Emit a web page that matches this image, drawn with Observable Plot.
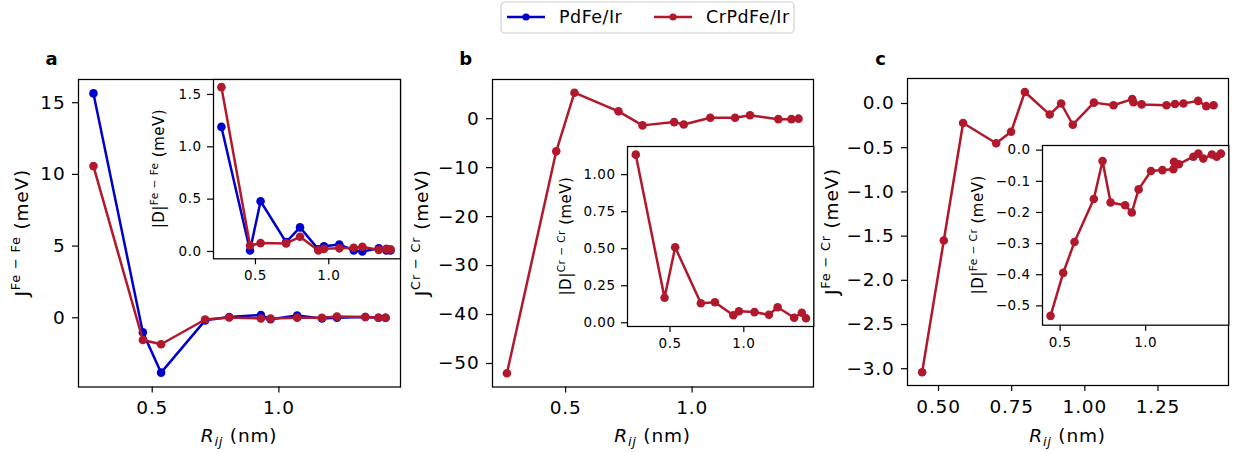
<!DOCTYPE html>
<html><head><meta charset="utf-8">
<script src="https://cdn.jsdelivr.net/npm/d3@7"></script>
<script src="https://cdn.jsdelivr.net/npm/@observablehq/plot@0.6"></script>
<style>
body{margin:0;background:#fff;}
#root{position:relative;width:1233px;height:453px;overflow:hidden;font-family:"DejaVu Sans",sans-serif;}
#root svg{position:absolute;overflow:visible;}
</style></head><body><div id="root"></div>
<script>
// ---- data ----
const seriesNames = ["PdFe/Ir", "CrPdFe/Ir"];
const seriesColors = ["#0000cc", "#b2182b"];

// neighbour distances (nm) for Fe–Fe and Cr–Cr pairs
const R_FeFe = [0.268, 0.463, 0.535, 0.709, 0.804, 0.929, 0.967, 1.072, 1.170, 1.229, 1.341, 1.393, 1.421];
// panel a main: J Fe-Fe (meV)
const J_FeFe_PdFe   = [15.65, -1.02, -3.83, -0.18, 0.05, 0.19, -0.10, 0.15, -0.05, 0.00, 0.05, 0.00, 0.00];
const J_FeFe_CrPdFe = [10.58, -1.55, -1.85, -0.12, 0.02, -0.05, -0.06, 0.00, 0.00, 0.08, 0.05, 0.00, 0.00];
// panel a inset: |D| Fe-Fe (meV)
const D_FeFe_PdFe   = [1.19, 0.01, 0.48, 0.09, 0.23, 0.02, 0.05, 0.067, 0.01, 0.00, 0.03, 0.01, 0.01];
const D_FeFe_CrPdFe = [1.57, 0.057, 0.08, 0.077, 0.14, 0.01, 0.025, 0.03, 0.035, 0.045, 0.015, 0.025, 0.02];
// panel b: Cr-Cr (CrPdFe/Ir)
const J_CrCr = [-52.0, -6.67, 5.3, 1.5, -1.37, -0.7, -1.2, 0.2, 0.2, 0.7, -0.1, -0.1, 0.0];
const D_CrCr = [1.135, 0.169, 0.51, 0.132, 0.139, 0.051, 0.078, 0.072, 0.054, 0.105, 0.034, 0.068, 0.031];
// panel c: Fe-Cr (CrPdFe/Ir)
const R_FeCr = [0.444, 0.518, 0.584, 0.697, 0.748, 0.795, 0.880, 0.919, 0.959, 1.031, 1.098, 1.162, 1.166, 1.194, 1.279, 1.308, 1.337, 1.387, 1.415, 1.440];
const J_FeCr = [-3.04, -1.55, -0.22, -0.45, -0.32, 0.13, -0.125, 0.0, -0.24, 0.01, -0.02, 0.05, 0.015, -0.01, -0.02, -0.005, 0.0, 0.03, -0.03, -0.02];
const D_FeCr = [-0.532, -0.394, -0.295, -0.157, -0.035, -0.168, -0.177, -0.2, -0.126, -0.067, -0.064, -0.061, -0.037, -0.045, -0.021, -0.011, -0.027, -0.014, -0.021, -0.011];

// ticks
const ticksA_y = [0, 5, 10, 15];
const ticksA_x = [0.5, 1.0];
const ticksAi_y = [0.0, 0.5, 1.0, 1.5];
const ticksB_y = [-50, -40, -30, -20, -10, 0];
const ticksBi_y = [0.00, 0.25, 0.50, 0.75, 1.00];
const ticksC_y = [-3.0, -2.5, -2.0, -1.5, -1.0, -0.5, 0.0];
const ticksC_x = [0.50, 0.75, 1.00, 1.25];
const ticksCi_y = [-0.5, -0.4, -0.3, -0.2, -0.1, 0.0];
const ticksIn_x = [0.5, 1.0];

// texts
const panelLetters = ["a", "b", "c"];
const xLabel = ["R", "ij", " (nm)"];
const yLabelsMain = [["J", "Fe − Fe", " (meV)"], ["J", "Cr − Cr", " (meV)"], ["J", "Fe − Cr", " (meV)"]];
const yLabelsInset = [["|D|", "Fe − Fe", " (meV)"], ["|D|", "Cr − Cr", " (meV)"], ["|D|", "Fe − Cr", " (meV)"]];

// ---- drawing ----
const root = document.getElementById("root");
const FONT = "'DejaVu Sans', sans-serif";

function panel(o) {
  const [x0, y0, x1, y1] = o.frame;
  const [mt, mr, mb, ml] = o.margin;
  const fs = o.fontSize;
  const marks = [];
  if (o.inset) marks.push(Plot.frame({fill: "white", stroke: "none"}));
  o.series.forEach(s => {
    const data = o.x.map((r, i) => ({r, v: s.values[i]}));
    marks.push(Plot.line(data, {x: "r", y: "v", stroke: s.color, strokeWidth: 2.5}));
    marks.push(Plot.dot(data, {x: "r", y: "v", fill: s.color, stroke: "none", r: o.r}));
  });
  marks.push(Plot.frame({stroke: "black", strokeWidth: 1.25}));
  marks.push(Plot.axisX({ticks: o.xTicks, tickFormat: d3.format(o.xFmt), tickSize: 6, tickPadding: o.xPad, strokeWidth: 1.2, label: null}));
  marks.push(Plot.axisY({ticks: o.yTicks, tickFormat: d3.format(o.yFmt), tickSize: 6, tickPadding: o.yPad, strokeWidth: 1.2, label: null}));
  const W = (x1 - x0) + ml + mr, H = (y1 - y0) + mt + mb;
  const svg = Plot.plot({
    width: W, height: H,
    marginTop: mt, marginRight: mr, marginBottom: mb, marginLeft: ml,
    x: {domain: o.xDomain}, y: {domain: o.yDomain},
    style: {fontFamily: FONT, fontSize: fs + "px", letterSpacing: o.ls + "px", color: "black", background: "transparent", overflow: "visible"},
    marks
  });
  const left = x0 - ml, top = y0 - mt;
  svg.style.left = left + "px";
  svg.style.top = top + "px";
  const s = d3.select(svg);
  const ls = o.labelSize;
  // y label with superscript
  const yl = s.append("text")
    .attr("transform", `translate(${ml - o.yLabelOff},${mt + (y1 - y0) / 2}) rotate(-90)`)
    .attr("text-anchor", "middle").attr("font-size", ls).attr("fill", "black").attr("font-family", FONT);
  yl.append("tspan").text(o.yLabel[0]);
  yl.append("tspan").attr("font-size", ls * 0.7).attr("dy", -0.42 * ls).text(o.yLabel[1]);
  yl.append("tspan").attr("dy", 0.42 * ls).text(o.yLabel[2]);
  if (o.xLabelY) {
    const xl = s.append("text")
      .attr("x", ml + (x1 - x0) / 2).attr("y", o.xLabelY - top)
      .attr("text-anchor", "middle").attr("font-size", ls).attr("fill", "black").attr("font-family", FONT);
    xl.append("tspan").attr("font-style", "italic").text(xLabel[0]);
    xl.append("tspan").attr("font-style", "italic").attr("font-size", ls * 0.7).attr("dy", 0.22 * ls).text(xLabel[1]);
    xl.append("tspan").attr("dy", -0.22 * ls).text(xLabel[2]);
  }
  if (o.letter) {
    s.append("text").attr("x", ml - 26).attr("y", 64.5 - top)
      .attr("font-size", 18).attr("font-weight", "bold").attr("fill", "black").attr("font-family", FONT)
      .text(o.letter);
  }
  root.appendChild(svg);
}

const mainCommon = {margin: [40, 8, 66, 95], fontSize: 18.5, labelSize: 18.5, ls: 0.8, r: 4.3, xPad: 8, yPad: 7, xLabelY: 442};
const insetCommon = {margin: [6, 6, 36, 75], fontSize: 13.5, labelSize: 15, ls: 0.5, r: 4.3, xPad: 6, yPad: 6, inset: true};

// Panel a
panel({...mainCommon, frame: [78, 79, 400, 386.5], xDomain: [0.209, 1.48], yDomain: [-4.83, 16.62],
  x: R_FeFe, series: [{values: J_FeFe_PdFe, color: seriesColors[0]}, {values: J_FeFe_CrPdFe, color: seriesColors[1]}],
  xTicks: ticksA_x, yTicks: ticksA_y, xFmt: ".1f", yFmt: "d", yLabel: yLabelsMain[0], yLabelOff: 50, letter: panelLetters[0]});
// Panel b
panel({...mainCommon, frame: [492, 79, 813, 386.5], xDomain: [0.211, 1.48], yDomain: [-54.8, 8.0],
  x: R_FeFe, series: [{values: J_CrCr, color: seriesColors[1]}],
  xTicks: ticksA_x, yTicks: ticksB_y, xFmt: ".1f", yFmt: "d", yLabel: yLabelsMain[1], yLabelOff: 64, letter: panelLetters[1]});
// Panel c
panel({...mainCommon, frame: [907, 78, 1228, 385], xDomain: [0.394, 1.491], yDomain: [-3.19, 0.283],
  x: R_FeCr, series: [{values: J_FeCr, color: seriesColors[1]}],
  xTicks: ticksC_x, yTicks: ticksC_y, xFmt: ".2f", yFmt: ".1f", yLabel: yLabelsMain[2], yLabelOff: 69, letter: panelLetters[2]});

// Insets
panel({...insetCommon, frame: [213, 79, 400, 258.3], xDomain: [0.214, 1.489], yDomain: [-0.07, 1.643],
  x: R_FeFe, series: [{values: D_FeFe_PdFe, color: seriesColors[0]}, {values: D_FeFe_CrPdFe, color: seriesColors[1]}],
  xTicks: ticksIn_x, yTicks: ticksAi_y, xFmt: ".1f", yFmt: ".1f", yLabel: yLabelsInset[0], yLabelOff: 49});
panel({...insetCommon, frame: [626.7, 146, 813, 326], xDomain: [0.212, 1.474], yDomain: [-0.025, 1.19],
  x: R_FeFe, series: [{values: D_CrCr, color: seriesColors[1]}],
  xTicks: ticksIn_x, yTicks: ticksBi_y, xFmt: ".1f", yFmt: ".2f", yLabel: yLabelsInset[1], yLabelOff: 56});
panel({...insetCommon, frame: [1041.7, 145.3, 1228, 325], xDomain: [0.397, 1.486], yDomain: [-0.562, 0.015],
  x: R_FeCr, series: [{values: D_FeCr, color: seriesColors[1]}],
  xTicks: ticksIn_x, yTicks: ticksCi_y, xFmt: ".1f", yFmt: ".1f", yLabel: yLabelsInset[2], yLabelOff: 59});

// Legend (above the panels)
const lg = d3.create("svg").attr("width", 296).attr("height", 34)
  .style("left", "500px").style("top", "1px");
lg.append("rect").attr("x", 1).attr("y", 1).attr("width", 293).attr("height", 31).attr("rx", 4)
  .attr("fill", "white").attr("stroke", "#d0d0d0").attr("stroke-width", 1.2);
const legX = [7, 154];
seriesNames.forEach((name, i) => {
  const x = legX[i];
  lg.append("line").attr("x1", x).attr("x2", x + 38).attr("y1", 16).attr("y2", 16)
    .attr("stroke", seriesColors[i]).attr("stroke-width", 2.5);
  lg.append("circle").attr("cx", x + 19).attr("cy", 16).attr("r", 3.6).attr("fill", seriesColors[i]);
  lg.append("text").attr("x", x + 52).attr("y", 22).attr("font-size", 17.5).attr("letter-spacing", 0.5)
    .attr("font-family", FONT).attr("fill", "black").text(name);
});
root.appendChild(lg.node());
</script>
</body></html>
